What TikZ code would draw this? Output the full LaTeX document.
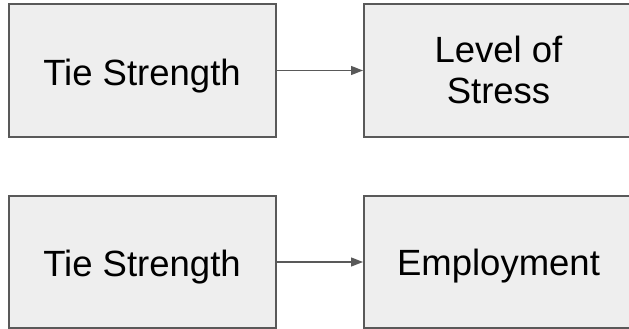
\documentclass[tikz,border=0pt]{standalone}
\usepackage{fontspec}
\setmainfont{Liberation Sans}
\usetikzlibrary{arrows.meta}
\definecolor{boxfill}{HTML}{EEEEEE}
\definecolor{boxline}{HTML}{595959}
\begin{document}
\begin{tikzpicture}[x=1pt,y=-1pt,
  box/.style={draw=boxline,fill=boxfill,line width=2pt,inner sep=0pt,outer sep=0pt,rectangle},
  lbl/.style={anchor=base,inner sep=0pt,font=\fontsize{36.5}{40.6}\selectfont},
  conn/.style={draw=boxline,line width=1.3pt,shorten >=1pt,-{Triangle[length=12pt,width=9pt]}}]
\useasboundingbox (0,0) rectangle (629,329);
\clip (0,0) rectangle (629,329);
\fill[white] (0,0) rectangle (629,329);
% top row
\node[box,minimum width=267pt,minimum height=133pt] (a1) at (142,70.5) {};
\node[box,minimum width=269pt,minimum height=133pt] (b1) at (498.5,70.5) {};
% bottom row
\node[box,minimum width=267pt,minimum height=132pt] (a2) at (142,262) {};
\node[box,minimum width=269pt,minimum height=132pt] (b2) at (498.5,262) {};
% labels
\node[lbl] (ta1) at (142,85) {Tie Strength};
\node[lbl] (tb1a) at (498.5,62.7) {Level of};
\node[lbl] (tb1b) at (498.5,103.3) {Stress};
\node[lbl] (ta2) at (142,276) {Tie Strength};
\node[lbl] (tb2) at (498.5,275.7) {Employment};
% connectors
\draw[conn] (a1.east) -- (b1.west);
\draw[conn] (a2.east) -- (b2.west);
\end{tikzpicture}
\end{document}
